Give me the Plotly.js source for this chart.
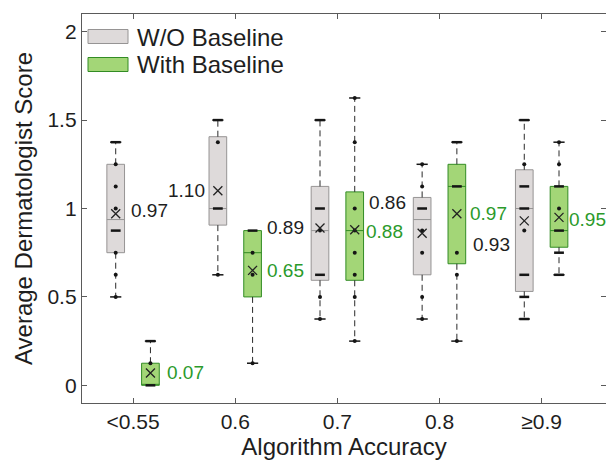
<!DOCTYPE html>
<html>
<head>
<meta charset="utf-8">
<script src="https://cdn.plot.ly/plotly-3.0.1.min.js"></script>
<style>
  html, body { margin: 0; padding: 0; background: #fff; }
  #chart { width: 606px; height: 460px; }
</style>
</head>
<body>
<div id="chart"></div>
<script>
// ---------------- DATA ----------------
const categories = ['<0.55', '0.6', '0.7', '0.8', '\u22650.9'];
const seriesNames = ['W/O Baseline', 'With Baseline'];

// W/O Baseline
const woQ1     = [0.75,   0.906, 0.594, 0.625,  0.531];
const woMedian = [0.9375, 1.0,   0.875, 0.9375, 1.0];
const woQ3     = [1.25,   1.406, 1.125, 1.0625, 1.219];
const woLow    = [0.5,    0.625, 0.375, 0.375,  0.375];
const woHigh   = [1.375,  1.5,   1.5,   1.25,   1.5];
const woMean   = [0.97,   1.10,  0.89,  0.86,   0.93];
const woPoints = [
  [1.375, 1.375, 1.25, 1.125, 1.0, 0.875, 0.875, 0.75, 0.625, 0.5],
  [1.5, 1.5, 1.375, 1.0, 1.0, 0.625],
  [1.5, 1.5, 1.0, 1.0, 0.875, 0.625, 0.625, 0.5, 0.375],
  [1.25, 1.125, 1.0, 1.0, 0.875, 0.75, 0.5, 0.375],
  [1.5, 1.5, 1.25, 1.125, 1.125, 1.0, 1.0, 0.875, 0.625, 0.625, 0.5, 0.5, 0.375, 0.375]
];

// With Baseline
const wbQ1     = [0.0,   0.5,   0.594, 0.6875, 0.781];
const wbMedian = [0.0,   0.75,  0.875, 1.125,  0.875];
const wbQ3     = [0.125, 0.875, 1.094, 1.25,   1.125];
const wbLow    = [0.0,   0.125, 0.25,  0.25,   0.625];
const wbHigh   = [0.25,  0.875, 1.625, 1.375,  1.375];
const wbMean   = [0.07,  0.65,  0.88,  0.97,   0.95];
const wbPoints = [
  [0.25, 0.25, 0.125, 0.0, 0.0, 0.0, 0.0],
  [0.875, 0.875, 0.75, 0.625, 0.125],
  [1.625, 1.375, 1.0, 0.875, 0.75, 0.625, 0.5, 0.25],
  [1.375, 1.375, 1.125, 1.125, 0.75, 0.625, 0.25],
  [1.375, 1.25, 1.125, 1.125, 1.0, 0.875, 0.875, 0.75, 0.75, 0.625, 0.625]
];

const yTickVals = [0, 0.5, 1, 1.5, 2];
const yTickText = ['0', '0.5', '1', '1.5', '2'];

// ---------------- STYLE / LAYOUT CONFIG ----------------
const W = 606, H = 460;
const M = {l: 82, r: 0, t: 14, b: 57};
const FONT = '"Liberation Sans", Arial, Helvetica, sans-serif';
const TXT = '#1e1e1e';
const AXIS = '#5a5a5a';
const INK = '#151515';
const GREEN_TXT = '#2b9a2b';
const groupOffset = 0.17;
const boxWidth = 0.173;
const styles = [
  {fill: 'rgb(222,218,218)', line: 'rgb(150,148,148)', text: TXT},
  {fill: 'rgb(163,214,119)', line: 'rgb(50,140,36)', text: GREEN_TXT}
];
// label placement per group: side, gap(px), vertical shift(px)
const labelPlace = [
  [{s: 'r', g: 5, dy: 3}, {s: 'l', g: 3, dy: 0}, {s: 'l', g: 6, dy: 0}, {s: 'l', g: 6, dy: 31}, {s: 'l', g: 4, dy: -24}],
  [{s: 'r', g: 7, dy: 0}, {s: 'r', g: 5, dy: 0}, {s: 'r', g: 1, dy: -2}, {s: 'r', g: 3, dy: 0}, {s: 'r', g: 0, dy: -2}]
];

const series = [
  {q1: woQ1, med: woMedian, q3: woQ3, lo: woLow, hi: woHigh, mean: woMean, pts: woPoints},
  {q1: wbQ1, med: wbMedian, q3: wbQ3, lo: wbLow, hi: wbHigh, mean: wbMean, pts: wbPoints}
];

const catX = categories.map((c, i) => i + 1);
const traces = [];
const annotations = [];
const plotW = W - M.l - M.r;
const xRange = [0.5, 5.63];
const halfBoxPx = boxWidth / 2 * plotW / (xRange[1] - xRange[0]);

series.forEach((s, si) => {
  const xs = catX.map(x => x + (si === 0 ? -groupOffset : groupOffset));
  const st = styles[si];
  // box body
  traces.push({
    type: 'box', name: seriesNames[si], x: xs,
    q1: s.q1, median: s.med, q3: s.q3, lowerfence: s.q1, upperfence: s.q3,
    width: boxWidth, whiskerwidth: 0, boxpoints: false,
    fillcolor: st.fill, line: {color: st.line, width: 1},
    hoverinfo: 'skip', showlegend: false
  });
  // dashed whiskers and caps
  const wx = [], wy = [], cx = [], cy = [];
  xs.forEach((x, i) => {
    if (s.hi[i] > s.q3[i]) { wx.push(x, x, null); wy.push(s.q3[i], s.hi[i], null); cx.push(x); cy.push(s.hi[i]); }
    if (s.lo[i] < s.q1[i]) { wx.push(x, x, null); wy.push(s.q1[i], s.lo[i], null); cx.push(x); cy.push(s.lo[i]); }
  });
  traces.push({type: 'scatter', mode: 'lines', x: wx, y: wy, connectgaps: false,
    line: {color: '#2a2a2a', width: 1, dash: '6px,4px'}, hoverinfo: 'skip', showlegend: false});
  traces.push({type: 'scatter', mode: 'markers', x: cx, y: cy,
    marker: {symbol: 'line-ew-open', size: 8, color: INK, line: {color: INK, width: 1.5}},
    hoverinfo: 'skip', showlegend: false});
  // data points
  const sx = [], sy = [], dx = [], dy = [];
  xs.forEach((x, i) => {
    const counts = {};
    s.pts[i].forEach(v => { counts[v] = (counts[v] || 0) + 1; });
    Object.keys(counts).forEach(k => {
      if (counts[k] > 1) { dx.push(x); dy.push(+k); } else { sx.push(x); sy.push(+k); }
    });
  });
  traces.push({type: 'scatter', mode: 'markers', x: sx, y: sy,
    marker: {symbol: 'circle', size: 4, color: INK}, hoverinfo: 'skip', showlegend: false});
  traces.push({type: 'scatter', mode: 'markers', x: dx, y: dy,
    marker: {symbol: 'line-ew-open', size: 7, color: INK, line: {color: INK, width: 2.5}}, hoverinfo: 'skip', showlegend: false});
  // mean markers
  traces.push({type: 'scatter', mode: 'markers', x: xs, y: s.mean,
    marker: {symbol: 'x-thin-open', size: 9, color: '#222', line: {color: '#222', width: 1.3}}, hoverinfo: 'skip', showlegend: false});
  // mean labels
  xs.forEach((x, i) => {
    const p = labelPlace[si][i];
    annotations.push({
      x: x, y: s.mean[i], xref: 'x', yref: 'y', showarrow: false,
      text: s.mean[i].toFixed(2),
      xanchor: p.s === 'r' ? 'left' : 'right', yanchor: 'middle',
      xshift: p.s === 'r' ? (halfBoxPx + p.g) : -(halfBoxPx + p.g), yshift: p.dy,
      borderpad: 0, font: {family: FONT, size: 19, color: st.text}
    });
  });
});

// right-side inward ticks (no line)
traces.push({type: 'scatter', x: [null], y: [null], yaxis: 'y2', showlegend: false, hoverinfo: 'skip'});

// legend drawn as shapes + text (paper coords from pixel positions)
const plotH = H - M.t - M.b;
const px2x = p => (p - M.l) / plotW;
const px2y = p => (H - M.b - p) / plotH;
const legendRows = [{y0: 29.5, y1: 43.5, yc: 37}, {y0: 57.5, y1: 71.5, yc: 65}];
const shapes = [];
legendRows.forEach((r, i) => {
  shapes.push({type: 'rect', xref: 'paper', yref: 'paper',
    x0: px2x(88), x1: px2x(128), y0: px2y(r.y1), y1: px2y(r.y0),
    fillcolor: styles[i].fill, line: {color: styles[i].line, width: 1}});
  annotations.push({xref: 'paper', yref: 'paper', x: px2x(135), y: px2y(r.yc),
    xanchor: 'left', yanchor: 'middle', showarrow: false, text: seriesNames[i],
    font: {family: FONT, size: 24, color: TXT}});
});

const layout = {
  width: W, height: H, margin: M,
  paper_bgcolor: '#fff', plot_bgcolor: '#fff',
  showlegend: false,
  font: {family: FONT, color: TXT},
  xaxis: {
    range: xRange, tickvals: catX, ticktext: categories,
    ticks: 'inside', ticklen: 5, tickcolor: AXIS, tickwidth: 1,
    showline: true, linecolor: AXIS, linewidth: 1.2, mirror: 'ticks',
    showgrid: false, zeroline: false,
    tickfont: {family: FONT, size: 21, color: TXT},
    title: {text: 'Algorithm Accuracy', font: {family: FONT, size: 24, color: TXT}, standoff: 8}
  },
  yaxis: {
    range: [-0.1, 2.1], tickvals: yTickVals, ticktext: yTickText,
    ticks: 'inside', ticklen: 5, tickcolor: AXIS, tickwidth: 1,
    showline: true, linecolor: AXIS, linewidth: 1.2,
    showgrid: false, zeroline: false,
    tickfont: {family: FONT, size: 21, color: TXT},
    title: {text: 'Average Dermatologist Score', font: {family: FONT, size: 24, color: TXT}, standoff: 8}
  },
  yaxis2: {
    range: [-0.1, 2.1], overlaying: 'y', side: 'right', tickvals: yTickVals,
    ticks: 'inside', ticklen: 5, tickcolor: AXIS, showticklabels: false,
    showline: false, showgrid: false, zeroline: false
  },
  shapes: shapes,
  annotations: annotations
};

Plotly.newPlot('chart', traces, layout, {staticPlot: true, displayModeBar: false});
</script>
</body>
</html>
